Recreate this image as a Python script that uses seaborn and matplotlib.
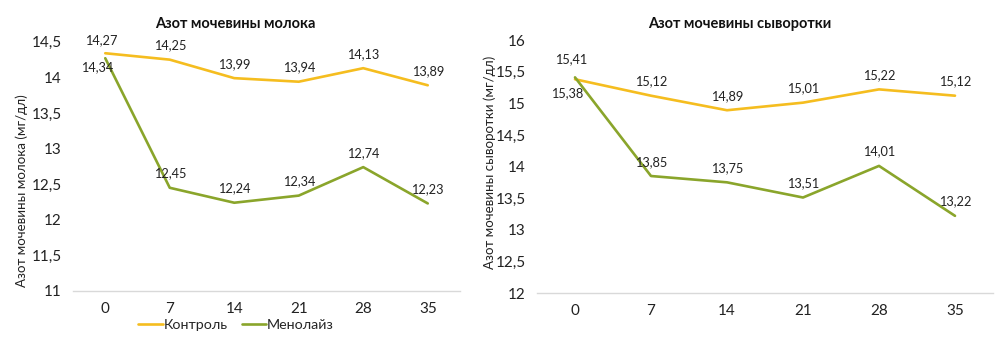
import matplotlib
matplotlib.use("Agg")
import matplotlib.pyplot as plt
from matplotlib.ticker import FuncFormatter, MultipleLocator
from matplotlib.lines import Line2D
import seaborn as sns
import pandas as pd

days = ["0", "7", "14", "21", "28", "35"]
series_names = ["Контроль", "Менолайз"]
milk_control = [14.34, 14.25, 13.99, 13.94, 14.13, 13.89]
milk_menolayz = [14.27, 12.45, 12.24, 12.34, 12.74, 12.23]
serum_control = [15.38, 15.12, 14.89, 15.01, 15.22, 15.12]
serum_menolayz = [15.41, 13.85, 13.75, 13.51, 14.01, 13.22]
titles = ["Азот мочевины молока", "Азот мочевины сыворотки"]
ylabels = ["Азот мочевины молока (мг/дл)", "Азот мочевины сыворотки (мг/дл)"]

YELLOW = "#F5BD1F"
GREEN = "#8AA52B"
palette = {series_names[0]: YELLOW, series_names[1]: GREEN}

sns.set_theme(style="white")
plt.rcParams["font.family"] = ["Lato", "DejaVu Sans"]

fig = plt.figure(figsize=(10, 3.47), dpi=100)
ax1 = fig.add_axes([0.073, 0.1614, 0.387, 0.718])
ax2 = fig.add_axes([0.537, 0.1556, 0.456, 0.729])

def make_df(c, m):
    return pd.DataFrame({
        "day": days * 2,
        "value": c + m,
        "series": [series_names[0]] * len(days) + [series_names[1]] * len(days),
    })

comma = FuncFormatter(lambda v, p: f"{v:g}".replace(".", ","))

configs = [
    (ax1, milk_control, milk_menolayz, (11, 14.5), 0.235, 0.022, 0.45),
    (ax2, serum_control, serum_menolayz, (12, 16), 0.740, 0.490, 0.533),
]

LBL = 9.2
for idx, (ax, c, m, ylim, tx, lx, ly) in enumerate(configs):
    df = make_df(c, m)
    sns.lineplot(data=df, x="day", y="value", hue="series", palette=palette,
                 linewidth=1.9, ax=ax, legend=False, sort=False)
    ax.set_xlim(-0.5, 5.5)
    ax.set_ylim(*ylim)
    ax.yaxis.set_major_locator(MultipleLocator(0.5))
    ax.yaxis.set_major_formatter(comma)
    ax.set_xlabel("")
    ax.set_ylabel("")
    for s in ["top", "right", "left"]:
        ax.spines[s].set_visible(False)
    ax.spines["bottom"].set_color("#d9d9d9")
    ax.spines["bottom"].set_linewidth(1.0)
    ax.tick_params(axis="both", length=0, labelsize=11, colors="#222222")
    ax.tick_params(axis="x", pad=8)
    ax.tick_params(axis="y", pad=8)
    for i, (vc, vm) in enumerate(zip(c, m)):
        if i == 0:
            ax.annotate(f"{vm:.2f}".replace(".", ","), (i, vm), xytext=(-3, 9),
                        textcoords="offset points", ha="center", va="bottom",
                        fontsize=LBL, color="#222222")
            ax.annotate(f"{vc:.2f}".replace(".", ","), (i, vc), xytext=(-6, -6),
                        textcoords="offset points", ha="center", va="top",
                        fontsize=LBL, color="#222222")
        else:
            ax.annotate(f"{vc:.2f}".replace(".", ","), (i, vc), xytext=(0, 6),
                        textcoords="offset points", ha="center", va="bottom",
                        fontsize=LBL, color="#222222")
            ax.annotate(f"{vm:.2f}".replace(".", ","), (i, vm), xytext=(0, 6),
                        textcoords="offset points", ha="center", va="bottom",
                        fontsize=LBL, color="#222222")
    fig.text(tx, 1 - 24 / 347, titles[idx], ha="center", va="center",
             fontsize=10.5, fontweight="bold", color="#111111")
    fig.text(lx, ly, ylabels[idx], rotation=90,
             ha="center", va="center", fontsize=9.6, color="#222222")

handles = [Line2D([], [], color=YELLOW, linewidth=1.9),
           Line2D([], [], color=GREEN, linewidth=1.9)]
fig.legend(handles, series_names, loc="center", bbox_to_anchor=(0.236, 1 - 325 / 347),
           ncol=2, frameon=False, fontsize=10.3, handlelength=1.7,
           handletextpad=0.05, columnspacing=1.0)

fig.savefig("out.png", dpi=100, facecolor="white")
